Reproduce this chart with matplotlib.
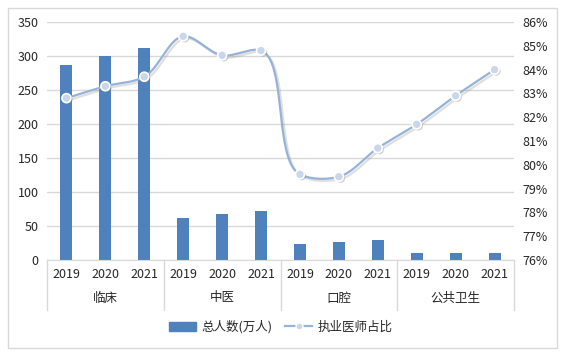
import numpy as np
import matplotlib
matplotlib.use("Agg")
import matplotlib.pyplot as plt
from matplotlib.patches import Patch, Rectangle
from matplotlib.lines import Line2D
import matplotlib.transforms as mtransforms
import matplotlib.patheffects as pe

plt.rcParams['font.family'] = ['Noto Sans CJK SC', 'DejaVu Sans']

groups = ["临床", "中医", "口腔", "公共卫生"]
years = ["2019", "2020", "2021"]
total_people = [287, 300, 312, 62, 68, 72, 23.5, 26.5, 29.5, 10.3, 10.3, 10.3]
doctor_ratio = [82.8, 83.3, 83.7, 85.4, 84.6, 84.8, 79.6, 79.5, 80.7, 81.7, 82.9, 84.0]
left_ticks = [0, 50, 100, 150, 200, 250, 300, 350]
right_ticks = [76, 77, 78, 79, 80, 81, 82, 83, 84, 85, 86]

W, H = 566, 360
fig = plt.figure(figsize=(W / 100, H / 100), dpi=100)
ax_l, ax_r, ax_t, ax_b = 47, 514, 22, 260
ax = fig.add_axes([ax_l / W, 1 - ax_b / H, (ax_r - ax_l) / W, (ax_b - ax_t) / H])

n = len(total_people)
x = np.arange(n)
bar_color = "#4F81BD"
ax.bar(x, total_people, width=0.31, color=bar_color, zorder=2)
ax.set_xlim(-0.5, n - 0.5)
ax.set_ylim(0, 350)
ax.set_yticks(left_ticks)
ax.yaxis.grid(True, color="#D9D9D9", linewidth=1)
ax.set_axisbelow(True)
for s in ["top", "left", "right"]:
    ax.spines[s].set_visible(False)
ax.spines["bottom"].set_color("#D9D9D9")
ax.tick_params(axis="y", length=0, pad=6, labelsize=9, labelcolor="#262626")
ax.set_xticks([])

ax2 = ax.twinx()
ax2.set_ylim(76, 86)
ax2.set_yticks(right_ticks)
ax2.set_yticklabels([f"{v}%" for v in right_ticks])
ax2.tick_params(axis="y", length=0, pad=6, labelsize=9, labelcolor="#262626")
for s in ax2.spines.values():
    s.set_visible(False)

# Non-uniform Catmull-Rom smoothing computed in screen-proportional space
sx = (ax_r - ax_l) / n          # px per category
sy = (ax_b - ax_t) / 10.0       # px per percent
pts = np.column_stack([x * sx, np.array(doctor_ratio) * sy]).astype(float)
P = np.vstack([2 * pts[0] - pts[1], pts, 2 * pts[-1] - pts[-2]])
alpha = 0.75
cx, cy = [], []
for i in range(1, len(P) - 2):
    p0, p1, p2, p3 = P[i - 1], P[i], P[i + 1], P[i + 2]
    t0 = 0.0
    t1 = t0 + np.linalg.norm(p1 - p0) ** alpha
    t2 = t1 + np.linalg.norm(p2 - p1) ** alpha
    t3 = t2 + np.linalg.norm(p3 - p2) ** alpha
    for t in np.linspace(t1, t2, 40):
        a1 = (t1 - t) / (t1 - t0) * p0 + (t - t0) / (t1 - t0) * p1
        a2 = (t2 - t) / (t2 - t1) * p1 + (t - t1) / (t2 - t1) * p2
        a3 = (t3 - t) / (t3 - t2) * p2 + (t - t2) / (t3 - t2) * p3
        b1 = (t2 - t) / (t2 - t0) * a1 + (t - t0) / (t2 - t0) * a2
        b2 = (t3 - t) / (t3 - t1) * a2 + (t - t1) / (t3 - t1) * a3
        c = (t2 - t) / (t2 - t1) * b1 + (t - t1) / (t2 - t1) * b2
        cx.append(c[0] / sx); cy.append(c[1] / sy)

line_color = "#95B3D7"
shadow = [pe.SimpleLineShadow(offset=(1.5, -1.5), shadow_color="gray", alpha=0.25), pe.Normal()]
ax2.plot(cx, cy, color=line_color, linewidth=1.6, zorder=3, path_effects=shadow)
ax2.plot(x, doctor_ratio, linestyle="none", marker="o", markersize=6.5,
         markerfacecolor="#C9D6EC", markeredgecolor="white", markeredgewidth=1.2, zorder=4,
         path_effects=[pe.SimplePatchShadow(offset=(1.2, -1.2), shadow_rgbFace="gray", alpha=0.35), pe.Normal()])

# two-level category axis
trans = mtransforms.blended_transform_factory(ax.transData, ax.transAxes)
ah = ax_b - ax_t
for i in range(n):
    ax.text(x[i], -15 / ah, years[i % 3], transform=trans, ha="center", va="center",
            fontsize=9, color="#262626", clip_on=False)
for g, name in enumerate(groups):
    ax.text(g * 3 + 1, -38 / ah, name, transform=trans, ha="center", va="center",
            fontsize=9, color="#262626", clip_on=False)
for b in np.arange(-0.5, n, 3):
    ax.add_line(Line2D([b, b], [0, -50 / ah], transform=trans, color="#D9D9D9",
                       linewidth=1, clip_on=False))

handles = [Patch(facecolor=bar_color, edgecolor=bar_color),
           Line2D([], [], color=line_color, linewidth=1.6, marker="o", markersize=5,
                  markerfacecolor="#C9D6EC", markeredgecolor="white")]
fig.legend(handles, ["总人数(万人)", "执业医师占比"], loc="center",
           bbox_to_anchor=((ax_l + ax_r) / 2 / W, 1 - 327 / H), ncol=2, frameon=False,
           fontsize=9, handlelength=2.2, columnspacing=1.0, handletextpad=0.4,
           labelcolor="#262626")

fig.patches.append(Rectangle((8 / W, 1 - 348 / H), (557 - 8) / W, (348 - 8) / H,
                             transform=fig.transFigure, fill=False,
                             edgecolor="#D9D9D9", linewidth=1))

fig.savefig("out.png", dpi=100, facecolor="white")
